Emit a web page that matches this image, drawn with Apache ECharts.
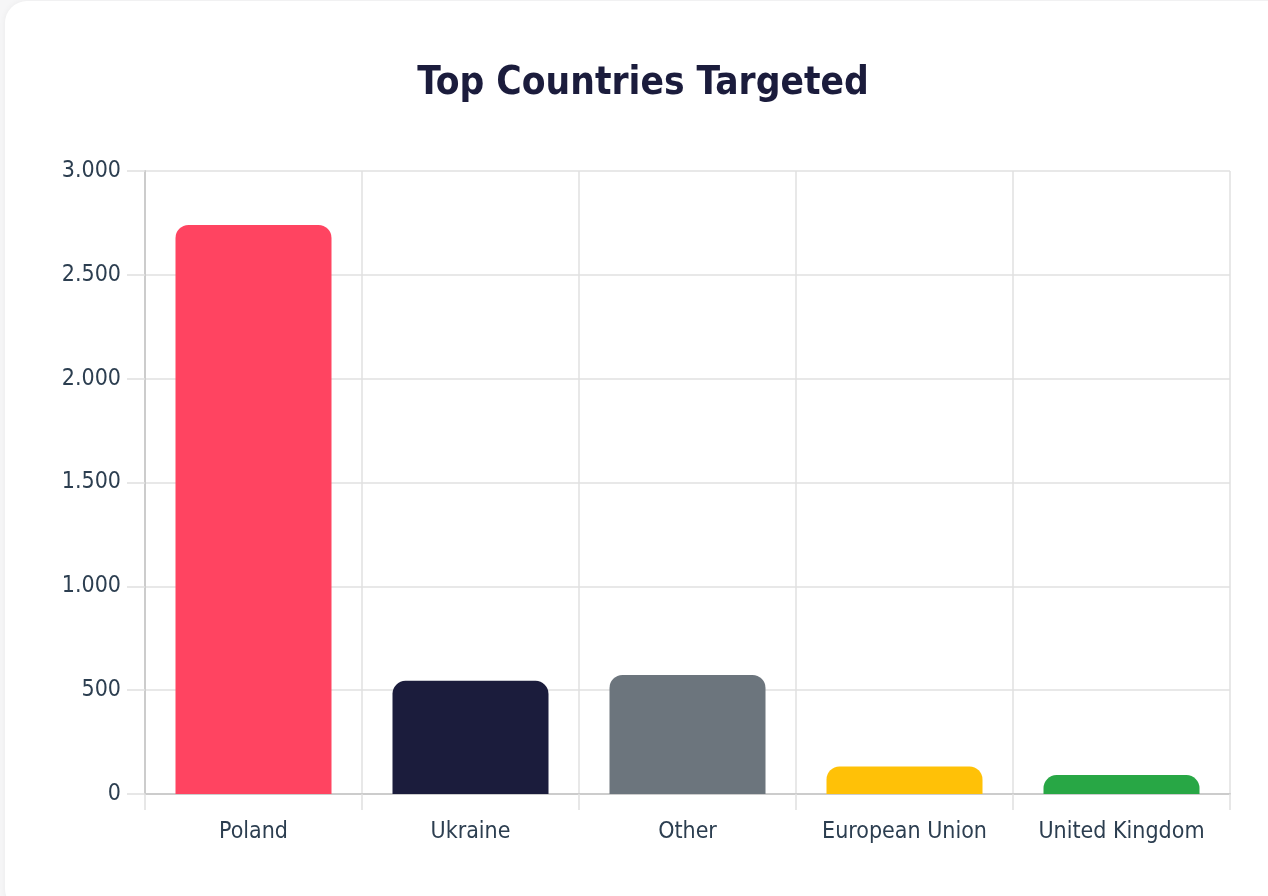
<!DOCTYPE html>
<html>
<head>
<meta charset="utf-8">
<script src="https://cdn.jsdelivr.net/npm/echarts@6/dist/echarts.min.js"></script>
<style>
  html, body { margin: 0; padding: 0; width: 1268px; height: 896px; overflow: hidden; background: #f6f6f7; }
  #card { position: absolute; left: 5px; top: 1px; width: 1290px; height: 910px; background: #ffffff; border-radius: 22px; box-shadow: 0 0 6px rgba(0,0,0,0.05); }
  #chart { position: absolute; left: 0; top: 0; width: 1268px; height: 896px; }
</style>
</head>
<body>
<div id="card"></div>
<div id="chart"></div>
<script>
const titleText = "Top Countries Targeted";
const categories = ["Poland", "Ukraine", "Other", "European Union", "United Kingdom"];
const values = [2740, 545, 573, 133, 91];
const barColors = ["#ff4461", "#1b1c3c", "#6c757d", "#ffc107", "#28a745"];
const yTicks = [0, 500, 1000, 1500, 2000, 2500, 3000];

const chart = echarts.init(document.getElementById('chart'), null, { renderer: 'canvas' });
const fmt = v => String(v).replace(/\B(?=(\d{3})+(?!\d))/g, '.');

chart.setOption({
  animation: false,
  backgroundColor: 'transparent',
  title: {
    text: titleText,
    left: 638,
    top: 59,
    textAlign: 'center',
    textStyle: { fontFamily: 'DejaVu Sans Condensed', fontWeight: 'bold', fontSize: 38.5, color: '#1b1c3c' }
  },
  grid: { left: 145, right: 38, top: 171, bottom: 102, containLabel: false },
  xAxis: {
    type: 'category',
    data: categories,
    boundaryGap: true,
    axisLine: { show: true, lineStyle: { color: '#cccccc', width: 2 } },
    axisTick: { show: true, length: 16, lineStyle: { color: '#e0e0e0', width: 1.5 } },
    splitLine: { show: true, lineStyle: { color: '#e0e0e0', width: 1.5 } },
    axisLabel: { margin: 27, fontFamily: 'DejaVu Sans Condensed', fontSize: 23, color: '#2c3e50' }
  },
  yAxis: {
    type: 'value',
    min: yTicks[0],
    max: yTicks[yTicks.length - 1],
    interval: yTicks[1] - yTicks[0],
    axisLine: { show: true, lineStyle: { color: '#cccccc', width: 2 } },
    axisTick: { show: true, length: 18, lineStyle: { color: '#e0e0e0', width: 1.5 } },
    splitLine: { show: true, lineStyle: { color: '#e0e0e0', width: 1.5 } },
    axisLabel: { margin: 24, fontFamily: 'DejaVu Sans Condensed', fontSize: 23, color: '#2c3e50', formatter: fmt }
  },
  series: [{
    type: 'bar',
    barWidth: 156,
    data: values.map((v, i) => ({ value: v, itemStyle: { color: barColors[i] } })),
    itemStyle: { borderRadius: [13, 13, 0, 0] }
  }]
});
</script>
</body>
</html>
